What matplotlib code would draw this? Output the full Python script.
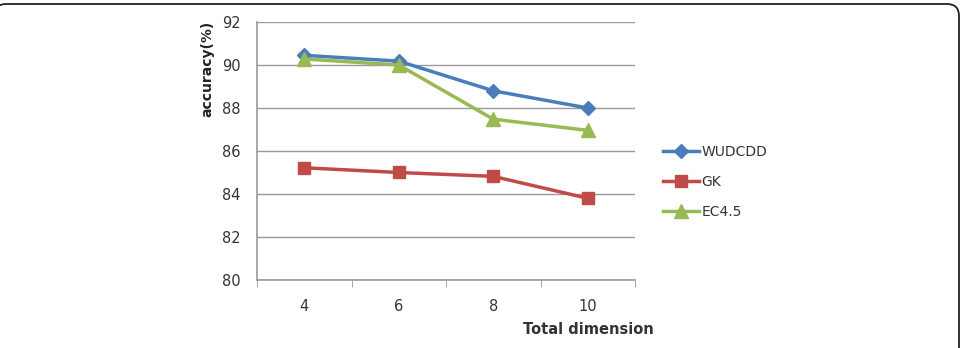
import matplotlib.pyplot as plt
from matplotlib.patches import FancyBboxPatch

# data
dims = ["4", "6", "8", "10"]
wudcdd = [90.45, 90.18, 88.8, 88.0]
gk = [85.22, 85.0, 84.82, 83.8]
ec45 = [90.28, 90.0, 87.48, 86.96]

fig = plt.figure(figsize=(9.65, 3.48), dpi=100)

# rounded frame around the figure (runs off the left and bottom edges)
frame = FancyBboxPatch((-0.06, -1.0), 9.65, 1.0 + 3.44, boxstyle="round,pad=0,rounding_size=0.12",
                       transform=fig.dpi_scale_trans, fill=False, edgecolor="#222222", linewidth=1.3)
fig.patches.append(frame)

W, H = 965, 348
ax = fig.add_axes([257 / W, 1 - 280 / H, (635 - 257) / W, (280 - 22) / H])

x = range(len(dims))
ax.plot(x, wudcdd, color="#4a7ebb", marker="D", markersize=7, linewidth=2.5, label="WUDCDD")
ax.plot(x, gk, color="#be4b48", marker="s", markersize=9, linewidth=2.5, label="GK")
ax.plot(x, ec45, color="#98b954", marker="^", markersize=10, linewidth=2.5, label="EC4.5")

ax.set_xlim(-0.5, len(dims) - 0.5)
ax.set_ylim(80, 92)
ax.set_yticks(range(80, 93, 2))
ax.set_xticks(list(x))
ax.set_xticklabels(dims)
ax.set_xticks([i - 0.5 for i in range(len(dims) + 1)], minor=True)
ax.tick_params(axis="x", which="major", length=0, pad=14, labelsize=10.5, colors="#333333")
ax.tick_params(axis="x", which="minor", length=5, color="#999999")
ax.tick_params(axis="y", length=0, pad=12, labelsize=10.5, colors="#333333")

ax.grid(axis="y", color="#999999", linewidth=1)
ax.set_axisbelow(True)
for s in ["top", "right"]:
    ax.spines[s].set_visible(False)
for s in ["left", "bottom"]:
    ax.spines[s].set_color("#999999")
    ax.spines[s].set_linewidth(1.2)

fig.text(207 / W, 1 - 69 / H, "accuracy(%)", rotation=90, ha="center", va="center",
         fontsize=10, fontweight="bold", color="#222222")
fig.text(588 / W, 1 - 330 / H, "Total dimension", ha="center", va="center",
         fontsize=10.5, fontweight="bold", color="#333333")

leg = fig.legend(loc="center left", bbox_to_anchor=(650 / W, 1 - 182 / H), frameon=False,
                 fontsize=10, handlelength=2.6, handletextpad=0.2, labelspacing=1.15)
for t in leg.get_texts():
    t.set_color("#333333")

fig.savefig("out.png", dpi=100)
